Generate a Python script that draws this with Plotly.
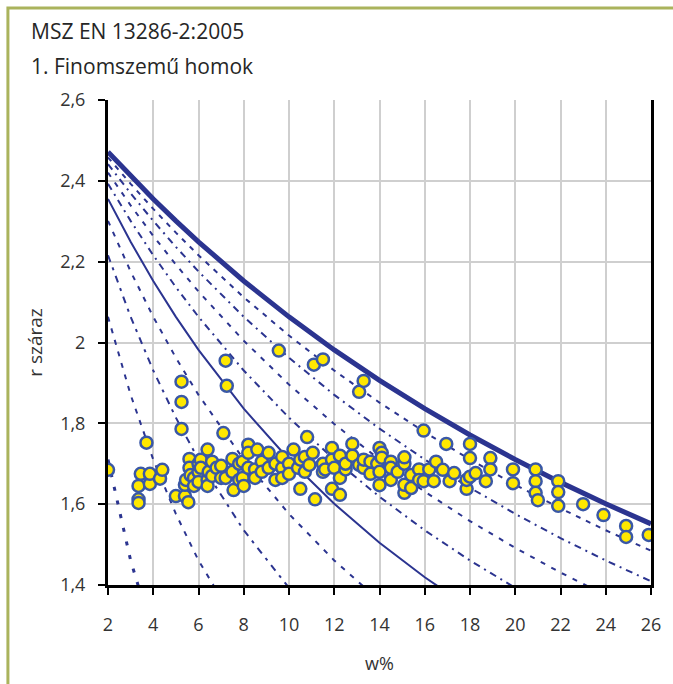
import plotly.graph_objects as go

# ---- theoretical curves ----
w_grid = [2, 3, 4, 5, 6, 8, 10, 12, 14, 16, 18, 20, 22, 24, 26]
rho_sr100 = [2.4715, 2.4119, 2.3551, 2.3009, 2.2491, 2.1523, 2.0635, 1.9817, 1.9062, 1.8362, 1.7711, 1.7105, 1.6539, 1.6010, 1.5513]
rho_sr90 = [2.4580, 2.3926, 2.3307, 2.2718, 2.2159, 2.1119, 2.0172, 1.9307, 1.8513, 1.7781, 1.7105, 1.6479, 1.5897, 1.5354, 1.4848]
rho_sr80 = [2.4413, 2.3690, 2.3009, 2.2366, 2.1757, 2.0635, 1.9623, 1.8705, 1.7869, 1.7105, 1.6404, 1.5758, 1.5160, 1.4607, 1.4092]
rho_sr70 = [2.4202, 2.3393, 2.2637, 2.1928, 2.1262, 2.0044, 1.8958, 1.7984, 1.7105, 1.6308, 1.5582, 1.4918, 1.4308, 1.3746, 1.3227]
rho_sr60 = [2.3926, 2.3009, 2.2159, 2.1370, 2.0635, 1.9307, 1.8140, 1.7105, 1.6183, 1.5354, 1.4607, 1.3929, 1.3311]
rho_sr50 = [2.3551, 2.2491, 2.1523, 2.0635, 1.9817, 1.8362, 1.7105, 1.6010, 1.5046, 1.4192, 1.3430]
rho_sr40 = [2.3009, 2.1757, 2.0635, 1.9623, 1.8705, 1.7105, 1.5758, 1.4607, 1.3613]
rho_sr30 = [2.2159, 2.0635, 1.9307, 1.8140, 1.7105, 1.5354, 1.3929]
rho_sr20 = [2.0635, 1.8705, 1.7105, 1.5758, 1.4607, 1.2745]
rho_sr10 = [1.7105, 1.4607, 1.2745]

# ---- measured points ----
w_meas = [
    2.0, 3.35, 3.35, 3.35, 3.45, 3.7, 3.85, 3.85, 4.3, 4.4,
    5.0, 5.25, 5.25, 5.25, 5.4, 5.4, 5.45, 5.55, 5.6, 5.6, 5.65, 5.8, 5.8,
    6.0, 6.0, 6.0, 6.1, 6.1, 6.4, 6.4, 6.4, 6.45, 6.6, 6.6, 6.8, 7.0, 7.0,
    7.1, 7.2, 7.25, 7.2, 7.5, 7.5, 7.55, 7.8, 7.8, 7.95, 7.95, 8.0,
    8.2, 8.2, 8.2, 8.5, 8.5, 8.6, 8.8, 8.8, 9.1, 9.1, 9.4, 9.4, 9.55,
    9.7, 9.7, 9.7, 10.0, 10.0, 10.2, 10.4, 10.5, 10.5, 10.7, 10.7, 10.8,
    10.9, 11.05, 11.1, 11.15, 11.5, 11.5, 11.5, 11.6, 11.9, 11.9, 11.9,
    12.0, 12.25, 12.25, 12.25, 12.5, 12.5, 12.8, 12.8, 13.1, 13.1,
    13.3, 13.3, 13.3, 13.6, 13.6, 13.9, 14.0, 14.0, 14.0, 14.1, 14.1,
    14.5, 14.5, 14.5, 14.8, 15.1, 15.1, 15.1, 15.1, 15.4, 15.4,
    15.75, 15.75, 15.95, 15.95, 16.2, 16.4, 16.5, 16.8, 16.95, 17.1, 17.3,
    17.85, 17.85, 18.0, 18.0, 18.0, 18.25, 18.7, 18.9, 18.9, 19.9, 19.9,
    20.9, 20.9, 20.9, 21.0, 21.9, 21.9, 21.9, 23.0, 23.9, 24.9, 24.9, 25.9,
]
rho_meas = [
    1.685, 1.612, 1.603, 1.645, 1.675, 1.752, 1.650, 1.675, 1.663, 1.685,
    1.620, 1.786, 1.853, 1.903, 1.620, 1.648, 1.660, 1.605, 1.712, 1.690, 1.672, 1.665, 1.645,
    1.700, 1.680, 1.655, 1.710, 1.690, 1.735, 1.660, 1.645, 1.680, 1.705, 1.670, 1.690, 1.695, 1.665,
    1.776, 1.955, 1.893, 1.665, 1.712, 1.680, 1.635, 1.700, 1.660, 1.705, 1.665, 1.645,
    1.747, 1.727, 1.690, 1.686, 1.665, 1.735, 1.705, 1.680, 1.727, 1.690, 1.660, 1.700, 1.980,
    1.690, 1.717, 1.665, 1.700, 1.675, 1.735, 1.690, 1.638, 1.710, 1.717, 1.680, 1.766,
    1.697, 1.727, 1.945, 1.612, 1.958, 1.700, 1.680, 1.686, 1.739, 1.638, 1.710,
    1.690, 1.623, 1.720, 1.665, 1.686, 1.700, 1.749, 1.720, 1.878, 1.697,
    1.905, 1.690, 1.710, 1.705, 1.675, 1.700, 1.739, 1.647, 1.680, 1.727, 1.715,
    1.660, 1.705, 1.690, 1.680, 1.628, 1.648, 1.700, 1.716, 1.640, 1.672,
    1.686, 1.660, 1.782, 1.657, 1.686, 1.657, 1.705, 1.685, 1.749, 1.657, 1.677,
    1.638, 1.660, 1.749, 1.714, 1.668, 1.677, 1.657, 1.714, 1.686, 1.686, 1.652,
    1.686, 1.657, 1.628, 1.610, 1.657, 1.630, 1.596, 1.600, 1.573, 1.546, 1.519, 1.524,
]

x_ticks = [2, 4, 6, 8, 10, 12, 14, 16, 18, 20, 22, 24, 26]
x_ticktext = ["2", "4", "6", "8", "10", "12", "14", "16", "18", "20", "22", "24", "26"]
y_ticks = [1.4, 1.6, 1.8, 2.0, 2.2, 2.4, 2.6]
y_ticktext = ["1,4", "1,6", "1,8", "2", "2,2", "2,4", "2,6"]

title1 = "MSZ EN 13286-2:2005"
title2 = "1. Finomszemű homok"
x_title = "w%"
y_title = "r száraz"

# ---- figure ----
LINE_C = "#2b3490"
fig = go.Figure()

curves = [
    (rho_sr90, "5px,6px", 2),
    (rho_sr80, "7px,5px,2px,5px", 2),
    (rho_sr70, "5px,7px", 2),
    (rho_sr60, "7px,5px,2px,5px", 2),
    (rho_sr40, "5px,7px", 2),
    (rho_sr30, "7px,6px,3px,6px", 2),
    (rho_sr20, "5px,7px", 2),
    (rho_sr10, "4px,10px", 3),
]
for rho, dash, width in curves:
    fig.add_trace(go.Scatter(x=w_grid[:len(rho)], y=rho, mode="lines",
                             line=dict(color=LINE_C, width=width, dash=dash),
                             hoverinfo="skip", showlegend=False))

fig.add_trace(go.Scatter(x=w_grid[:len(rho_sr50)], y=rho_sr50, mode="lines",
                         line=dict(color=LINE_C, width=2), showlegend=False))
fig.add_trace(go.Scatter(x=w_grid, y=rho_sr100, mode="lines",
                         line=dict(color=LINE_C, width=5), showlegend=False))

fig.add_trace(go.Scatter(x=w_meas, y=rho_meas, mode="markers",
                         marker=dict(size=12, color="#ffe800",
                                     line=dict(color="#3a58a6", width=2.5)),
                         showlegend=False))

L, R, T, B = 108, 17, 100, 99
W, H = 673, 684
pw, ph = W - L - R, H - T - B


def px(xp):
    return (xp - L) / pw


def py(yp):
    return 1 - (yp - T) / ph


font_fam = "Open Sans, Noto Sans, sans-serif"
axis_common = dict(showgrid=True, gridcolor="#cfcfcf", gridwidth=1.5,
                   showline=True, linecolor="black", linewidth=3,
                   ticks="outside", ticklen=7, tickwidth=2, tickcolor="black",
                   zeroline=False, tickfont=dict(size=18, color="#333333", family=font_fam))

fig.update_xaxes(range=[2, 26], tickvals=x_ticks, ticktext=x_ticktext,
                 ticklabelstandoff=14, **axis_common)
fig.update_yaxes(range=[1.4, 2.6], tickvals=y_ticks, ticktext=y_ticktext,
                 mirror=True, ticklabelstandoff=9, **axis_common)

fig.update_layout(
    width=W, height=H,
    margin=dict(l=L, r=R, t=T, b=B, pad=0),
    paper_bgcolor="white", plot_bgcolor="white",
    font=dict(family=font_fam, color="#333333"),
    shapes=[dict(type="rect", xref="paper", yref="paper",
                 x0=px(7), x1=px(700), y0=py(720), y1=py(8),
                 line=dict(color="#aab35c", width=3), layer="below")],
    annotations=[
        dict(text=title1, x=px(28), y=py(31), xref="paper", yref="paper",
             xanchor="left", yanchor="middle", showarrow=False,
             font=dict(size=21, color="#262626")),
        dict(text=title2, x=px(28), y=py(66), xref="paper", yref="paper",
             xanchor="left", yanchor="middle", showarrow=False,
             font=dict(size=21, color="#262626")),
        dict(text=y_title, x=px(34), y=py(342), xref="paper", yref="paper",
             xanchor="center", yanchor="middle", showarrow=False, textangle=-90,
             font=dict(size=19, color="#333333")),
        dict(text=x_title, x=0.5, y=py(663), xref="paper", yref="paper",
             xanchor="center", yanchor="middle", showarrow=False,
             font=dict(size=18, color="#333333")),
    ],
)

fig.write_html("out.html")
